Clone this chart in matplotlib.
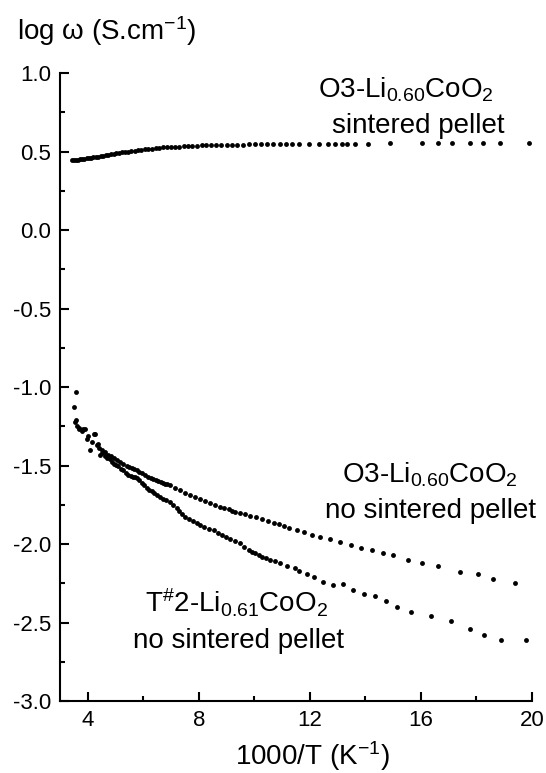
import matplotlib
matplotlib.use("Agg")
import matplotlib.pyplot as plt
from matplotlib.ticker import FixedLocator, FixedFormatter

plt.rcParams["font.family"] = ["Liberation Sans", "DejaVu Sans"]
plt.rcParams["mathtext.fontset"] = "custom"
plt.rcParams["mathtext.rm"] = "Liberation Sans"
plt.rcParams["mathtext.it"] = "Liberation Sans"
plt.rcParams["mathtext.default"] = "rm"

# O3-Li0.60CoO2, sintered pellet
x_sint = [3.45, 3.52, 3.59, 3.66, 3.73, 3.80, 3.88, 3.96, 4.04, 4.12,
          4.20, 4.28, 4.37, 4.46, 4.55, 4.64, 4.73, 4.83, 4.93, 5.03,
          5.13, 5.24, 5.35, 5.46, 5.57, 5.69, 5.81, 5.93, 6.05, 6.18,
          6.31, 6.44, 6.58, 6.72, 6.86, 7.00, 7.15, 7.30, 7.45, 7.61,
          7.77, 7.93, 8.10, 8.27, 8.45, 8.63, 8.81, 9.00, 9.19, 9.39,
          9.59, 9.80, 10.01, 10.23, 10.45, 10.68, 10.91, 11.15, 11.35, 11.59,
          11.95, 12.31, 12.67, 12.91, 13.15, 13.33, 13.63, 14.11, 14.89, 16.03,
          16.63, 17.11, 17.77, 18.23, 18.86, 19.88]
y_sint = [0.443, 0.445, 0.446, 0.448, 0.450, 0.452, 0.454, 0.457, 0.459, 0.461,
          0.463, 0.466, 0.468, 0.472, 0.474, 0.477, 0.480, 0.483, 0.486, 0.489,
          0.491, 0.494, 0.497, 0.500, 0.502, 0.505, 0.508, 0.511, 0.514, 0.516,
          0.519, 0.521, 0.524, 0.526, 0.528, 0.530, 0.531, 0.532, 0.534, 0.535,
          0.536, 0.537, 0.539, 0.540, 0.541, 0.541, 0.542, 0.542, 0.543, 0.543,
          0.544, 0.545, 0.546, 0.546, 0.547, 0.547, 0.548, 0.548, 0.549, 0.549,
          0.549, 0.549, 0.550, 0.550, 0.550, 0.550, 0.550, 0.551, 0.552, 0.553,
          0.553, 0.554, 0.555, 0.555, 0.556, 0.556]

# O3-Li0.60CoO2, no sintered pellet
x_o3 = [3.52, 3.56, 3.62, 3.70, 3.78, 3.90, 4.02, 4.14, 4.24, 4.32,
        4.41, 4.50, 4.62, 4.74, 4.85, 4.95, 5.06, 5.16, 5.28, 5.40,
        5.49, 5.58, 5.67, 5.76, 5.86, 5.97, 6.07, 6.18, 6.27, 6.36,
        6.45, 6.54, 6.62, 6.70, 6.78, 6.87, 6.96, 7.14, 7.32, 7.50,
        7.68, 7.86, 8.05, 8.23, 8.41, 8.59, 8.77, 8.92, 9.07, 9.19,
        9.31, 9.49, 9.67, 9.85, 10.06, 10.27, 10.48, 10.69, 10.87, 11.05,
        11.23, 11.53, 11.77, 12.07, 12.37, 12.73, 13.09, 13.49, 13.85, 14.23,
        14.62, 15.01, 15.52, 16.03, 16.63, 17.41, 18.07, 18.58, 19.37]
y_o3 = [-1.13, -1.21, -1.25, -1.27, -1.28, -1.27, -1.31, -1.35, -1.30, -1.37,
        -1.39, -1.40, -1.415, -1.43, -1.44, -1.45, -1.465, -1.476, -1.49, -1.50,
        -1.508, -1.515, -1.522, -1.53, -1.54, -1.55, -1.56, -1.57, -1.578, -1.585,
        -1.592, -1.60, -1.605, -1.61, -1.615, -1.62, -1.624, -1.64, -1.656, -1.672,
        -1.688, -1.70, -1.713, -1.725, -1.737, -1.75, -1.762, -1.771, -1.78, -1.787,
        -1.794, -1.80, -1.81, -1.82, -1.83, -1.84, -1.852, -1.863, -1.875, -1.885,
        -1.897, -1.91, -1.925, -1.94, -1.952, -1.966, -1.985, -2.006, -2.025, -2.04,
        -2.055, -2.07, -2.10, -2.12, -2.14, -2.18, -2.19, -2.22, -2.245]

# T#2-Li0.61CoO2, no sintered pellet
x_t2 = [3.58, 3.54, 3.68, 3.84, 3.96, 4.08, 4.26, 4.38, 4.44, 4.53,
        4.62, 4.71, 4.80, 4.88, 4.96, 5.03, 5.10, 5.19, 5.28, 5.37,
        5.46, 5.54, 5.62, 5.69, 5.76, 5.85, 5.94, 6.03, 6.12, 6.21,
        6.30, 6.39, 6.48, 6.59, 6.70, 6.83, 6.96, 7.08, 7.20, 7.29,
        7.38, 7.50, 7.65, 7.80, 7.93, 8.05, 8.20, 8.35, 8.53, 8.68,
        8.83, 8.98, 9.13, 9.31, 9.49, 9.64, 9.79, 9.91, 10.03, 10.15,
        10.27, 10.42, 10.57, 10.75, 10.93, 11.17, 11.47, 11.61, 11.89, 12.16,
        12.46, 12.82, 13.19, 13.57, 13.95, 14.35, 14.75, 15.15, 15.64, 16.36,
        17.08, 17.77, 18.28, 18.88, 19.78]
y_t2 = [-1.03, -1.22, -1.26, -1.27, -1.33, -1.40, -1.30, -1.36, -1.43, -1.42,
        -1.44, -1.45, -1.46, -1.475, -1.49, -1.497, -1.505, -1.52, -1.53, -1.545,
        -1.56, -1.565, -1.57, -1.575, -1.58, -1.595, -1.61, -1.627, -1.645, -1.655,
        -1.665, -1.678, -1.69, -1.70, -1.71, -1.72, -1.73, -1.75, -1.77, -1.79,
        -1.81, -1.825, -1.84, -1.855, -1.868, -1.876, -1.89, -1.903, -1.911, -1.927,
        -1.943, -1.953, -1.966, -1.98, -1.996, -2.02, -2.04, -2.05, -2.06, -2.07,
        -2.08, -2.09, -2.10, -2.11, -2.12, -2.138, -2.15, -2.17, -2.19, -2.21,
        -2.24, -2.26, -2.255, -2.29, -2.32, -2.33, -2.36, -2.40, -2.43, -2.46,
        -2.49, -2.54, -2.58, -2.61, -2.61]

x_major = [4, 8, 12, 16, 20]
x_minor = [6, 10, 14, 18]
y_major = [-3.0, -2.5, -2.0, -1.5, -1.0, -0.5, 0.0, 0.5, 1.0]
y_labels = ["-3.0", "-2.5", "-2.0", "-1.5", "-1.0", "-0.5", "0.0", "0.5", "1.0"]
y_minor = [-2.75, -2.25, -1.75, -1.25, -0.75, -0.25, 0.25, 0.75]

fig = plt.figure(figsize=(5.46, 7.73), dpi=100)
ax = fig.add_axes([0.1099, 0.0931, 0.8645, 0.8124])

for xs, ys in [(x_sint, y_sint), (x_o3, y_o3), (x_t2, y_t2)]:
    ax.plot(xs, ys, "o", color="black", ms=3.5, mew=0, clip_on=False)

ax.set_xlim(3, 20)
ax.set_ylim(-3.0, 1.0)
ax.xaxis.set_major_locator(FixedLocator(x_major))
ax.xaxis.set_minor_locator(FixedLocator(x_minor))
ax.yaxis.set_major_locator(FixedLocator(y_major))
ax.yaxis.set_major_formatter(FixedFormatter(y_labels))
ax.yaxis.set_minor_locator(FixedLocator(y_minor))

for side in ["top", "right"]:
    ax.spines[side].set_visible(False)
for side in ["left", "bottom"]:
    ax.spines[side].set_linewidth(1.5)

ax.tick_params(which="major", direction="in", length=6.5, width=1.5,
               labelsize=16, pad=6.5)
ax.tick_params(which="minor", direction="in", length=3.8, width=1.5)

tkw = dict(fontsize=20, ha="center", va="baseline", clip_on=False)
ax.text(15.46, 0.847, r"O3-Li$_{0.60}$CoO$_2$", **tkw)
ax.text(15.90, 0.618, "sintered pellet", **tkw)
ax.text(16.33, -1.605, r"O3-Li$_{0.60}$CoO$_2$", **tkw)
ax.text(16.33, -1.834, "no sintered pellet", **tkw)
ax.text(9.36, -2.439, r"T$^{\#}$2-Li$_{0.61}$CoO$_2$", **tkw)
ax.text(9.43, -2.662, "no sintered pellet", **tkw)

fig.text(312.5 / 546, 1 - 765 / 773, r"1000/T (K$^{-1}$)", fontsize=20,
         ha="center", va="baseline")
fig.text(17 / 546, 1 - 40 / 773, r"log ω (S.cm$^{-1}$)", fontsize=20,
         ha="left", va="baseline")

fig.savefig("out.png", dpi=100)
